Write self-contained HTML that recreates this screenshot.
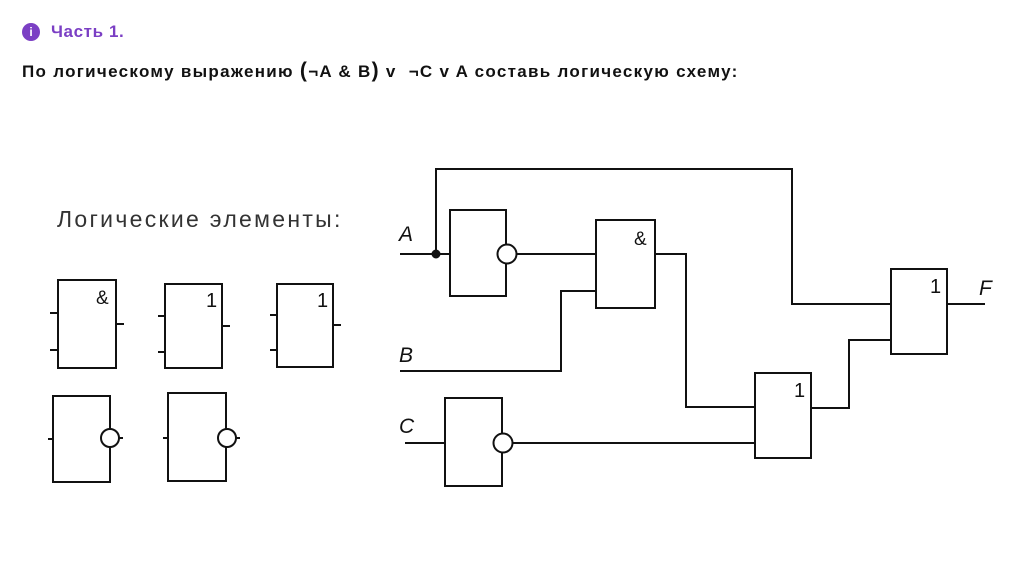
<!DOCTYPE html>
<html><head><meta charset="utf-8"><style>
body{margin:0;width:1012px;height:572px;background:#fff;overflow:hidden;position:relative;font-family:"Liberation Sans",sans-serif}
.t{position:absolute;white-space:nowrap}
</style></head><body>
<div class="t" style="left:22px;top:23px;width:18px;height:18px;border-radius:50%;background:#7b3fc4;color:#fff;font-weight:bold;font-size:12px;text-align:center;line-height:18px">i</div>
<div class="t" style="left:51px;top:22px;font-size:17px;font-weight:bold;color:#7b3fc4;letter-spacing:0.6px">Часть 1.</div>
<div class="t" style="left:22px;top:59px;font-size:17px;font-weight:bold;color:#111;letter-spacing:1.3px">По логическому выражению <span style="font-size:21px">(</span>¬A &amp; B<span style="font-size:21px">)</span> v &nbsp;¬C v A составь логическую схему:</div>
<div class="t" style="left:57px;top:206px;font-size:23px;color:#333;letter-spacing:2.3px">Логические элементы:</div>
<svg width="1012" height="572" style="position:absolute;left:0;top:0" fill="none" stroke="#111" stroke-width="2">
<rect x="58" y="280" width="58" height="88"/><path d="M50 313H58M50 350H58M116 324H124"/>
<rect x="165" y="284" width="57" height="84"/><path d="M158 316H165M158 352H165M222 326H230"/>
<rect x="277" y="284" width="56" height="83"/><path d="M270 315H277M270 350H277M333 325H341"/>
<rect x="53" y="396" width="57" height="86"/><circle cx="110" cy="438" r="9" fill="#fff"/><path d="M48 439H53M119 438H123"/>
<rect x="168" y="393" width="58" height="88"/><circle cx="227" cy="438" r="9" fill="#fff"/><path d="M163 438H168M236 438H240"/>
<path d="M400 254H450M436 254V169H792V304H891"/>
<circle cx="436" cy="254" r="3.5" fill="#111"/>
<rect x="450" y="210" width="56" height="86"/><circle cx="507" cy="254" r="9.5" fill="#fff"/>
<path d="M516 254H596"/>
<rect x="596" y="220" width="59" height="88"/>
<path d="M400 371H561V291H596"/>
<path d="M655 254H686V407H755"/>
<path d="M405 443H445"/>
<rect x="445" y="398" width="57" height="88"/><circle cx="503" cy="443" r="9.5" fill="#fff"/>
<path d="M512 443H755"/>
<rect x="755" y="373" width="56" height="85"/>
<path d="M811 408H849V340H891"/>
<rect x="891" y="269" width="56" height="85"/>
<path d="M947 304H985"/>
<g stroke="none" fill="#111" font-family="Liberation Sans,sans-serif">
<text x="96" y="304" font-size="19">&amp;</text>
<text x="206" y="307" font-size="20">1</text>
<text x="317" y="307" font-size="20">1</text>
<text x="634" y="245" font-size="19">&amp;</text>
<text x="794" y="397" font-size="20">1</text>
<text x="930" y="293" font-size="20">1</text>
<g font-style="italic" font-size="21">
<text x="399" y="241">A</text>
<text x="399" y="362">B</text>
<text x="399" y="433">C</text>
<text x="979" y="295">F</text>
</g></g>
</svg>
</body></html>
